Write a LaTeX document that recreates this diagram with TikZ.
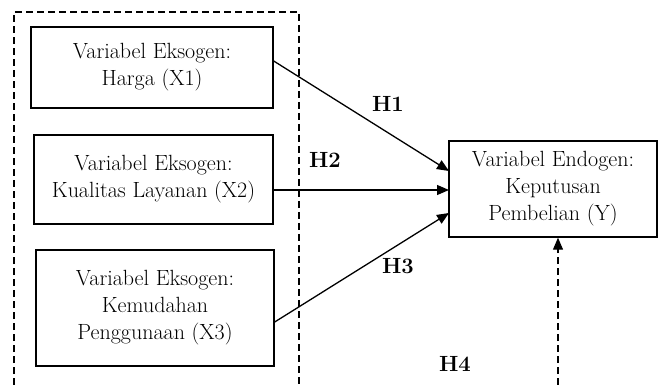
\documentclass[tikz,border=0pt]{standalone}
\usetikzlibrary{arrows.meta}
\begin{document}
\begin{tikzpicture}[x=1pt,y=-1pt,
  box/.style={draw,line width=1.4pt,align=center,inner sep=0pt,font=\fontsize{22}{27}\selectfont},
  lab/.style={font=\fontsize{22}{24}\selectfont\bfseries},
  arr/.style={line width=1.3pt,-{Triangle[length=12pt,width=10pt]}},
  dashline/.style={line width=1.2pt,dash pattern=on 7pt off 4pt}]
\useasboundingbox (0,0) rectangle (662,385);
\draw[dashline] (14,385) -- (14,12) -- (299,12) -- (299,385);
\node[box,minimum width=242pt,minimum height=81pt] (x1) at (152,67.5) {Variabel Eksogen:\\Harga (X1)};
\node[box,minimum width=239pt,minimum height=89pt] (x2) at (153.5,179.5) {Variabel Eksogen:\\Kualitas Layanan (X2)};
\node[box,minimum width=238pt,minimum height=116pt] (x3) at (155,308) {Variabel Eksogen:\\Kemudahan\\Penggunaan (X3)};
\node[box,minimum width=208pt,minimum height=96pt] (y) at (553,189) {Variabel Endogen:\\Keputusan\\Pembelian (Y)};
\coordinate (y1) at (449,171);
\coordinate (y2) at (449,190);
\coordinate (y3) at (449,213);
\coordinate (h4s) at (558,385);
\draw[arr] (x1.east |- 0,61) -- (y1);
\draw[arr] (x2.east |- 0,190) -- (y2);
\draw[arr] (x3.east |- 0,322) -- (y3);
\draw[dashline,-{Triangle[length=12pt,width=10pt]}] (h4s) -- (y.south -| h4s);
\node[lab] (h1) at (388,104) {H1};
\node[lab] (h2) at (325,160) {H2};
\node[lab] (h3) at (398,266) {H3};
\node[lab] (h4) at (455,364) {H4};
\end{tikzpicture}
\end{document}
